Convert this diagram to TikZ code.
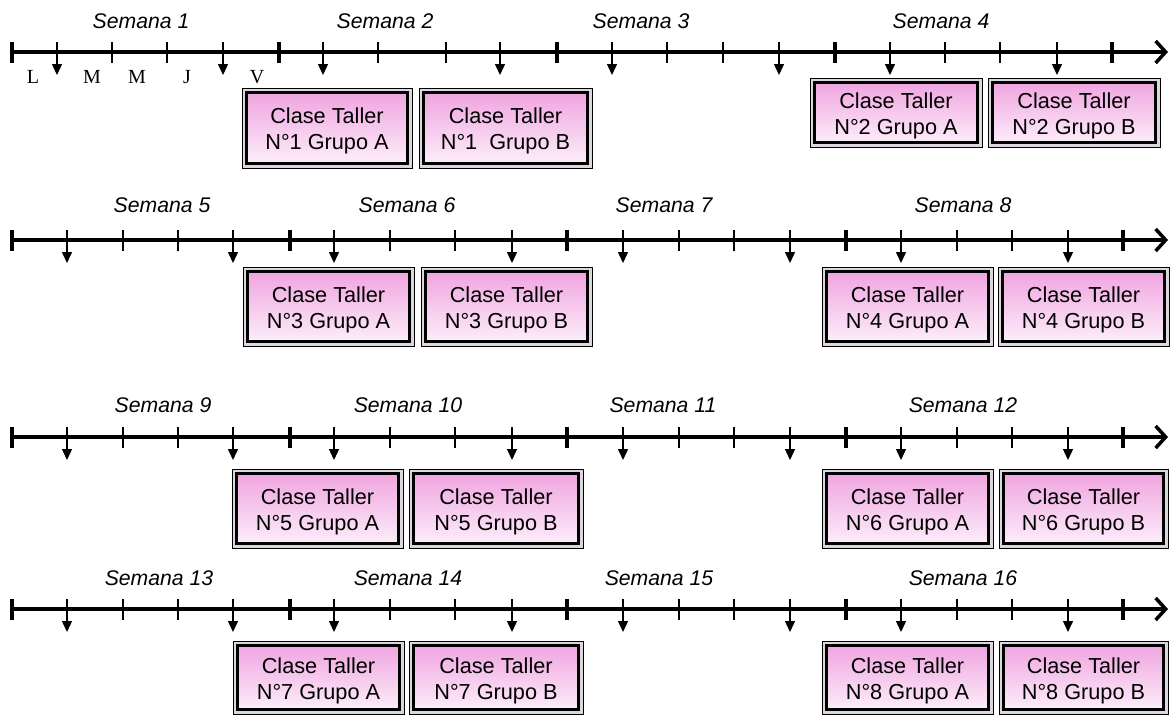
\documentclass[tikz,border=0pt]{standalone}
\usepackage{fontspec}
\setmainfont{Liberation Sans}
\newfontfamily\dayfont{Liberation Serif}
\usetikzlibrary{arrows.meta}

\definecolor{pinktop}{RGB}{239,160,222}
\definecolor{pinkmid}{RGB}{248,212,242}
\definecolor{pinkbot}{RGB}{253,242,252}
\definecolor{gapgray}{RGB}{222,214,222}

\tikzset{
  axis/.style={line width=3.5pt, -{Straight Barb[length=10pt,width=22pt]}},
  weektick/.style={line width=4.5pt},
  daytick/.style={line width=2pt},
  dayarrow/.style={line width=1.4pt, -{Triangle[length=11pt,width=10pt]}},
  weeklabel/.style={anchor=base, inner sep=0pt, font=\fontsize{21.2}{25}\selectfont\itshape},
  daylabel/.style={anchor=base, inner sep=0pt, font=\fontsize{20}{24}\dayfont},
  boxtext/.style={align=center, inner sep=0pt, yshift=-3pt,
    font=\fontsize{21.7}{26}\selectfont},
  tallerbox/.style={draw=black, line width=0.9pt, fill=gapgray, inner sep=0pt,
    path picture={
      \shade[top color=pinktop, middle color=pinkmid, bottom color=pinkbot]
        ([shift={(4.5pt,4.5pt)}]path picture bounding box.south west)
        rectangle ([shift={(-4.5pt,-4.5pt)}]path picture bounding box.north east);
      \draw[line width=2.5pt]
        ([shift={(4.5pt,4.5pt)}]path picture bounding box.south west)
        rectangle ([shift={(-4.5pt,-4.5pt)}]path picture bounding box.north east);
    }},
}

% \taller{name}{x1}{y1}{x2}{y2}{second line}
\newcommand\taller[6]{%
  \pgfmathsetmacro\tw{#4-#2}\pgfmathsetmacro\th{#5-#3}%
  \pgfmathsetmacro\tcx{(#2+#4)/2}\pgfmathsetmacro\tcy{(#3+#5)/2}%
  \node[tallerbox, minimum width=\tw pt, minimum height=\th pt,
    label={[boxtext]center:{Clase Taller\\#6}}] (#1) at (\tcx,\tcy) {};%
}

\begin{document}
\begin{tikzpicture}[x=1pt,y=-1pt]
\useasboundingbox (0,0) rectangle (1172,715);

% ---------- first timeline (weeks 1-4) ----------
\def\ya{52}
\draw[axis] (10,\ya) -- (1168,\ya);
\foreach \x in {12,279,557,835,1112}
  \draw[weektick] (\x,\ya-10) -- (\x,\ya+11);
\foreach \x in {112,167,378,446,667,723,945,1000}
  \draw[daytick] (\x,\ya-10) -- (\x,\ya+11);
\foreach \x in {57,223,323,500,612,779,890,1057}
  \draw[dayarrow] (\x,\ya-10) -- (\x,\ya+23);

\node[weeklabel] (s1) at (141,28) {Semana 1};
\node[weeklabel] (s2) at (385,28) {Semana 2};
\node[weeklabel] (s3) at (641,28) {Semana 3};
\node[weeklabel] (s4) at (941,28) {Semana 4};

\node[daylabel] (dL)  at (33,83)  {L};
\node[daylabel] (dM1) at (92,83)  {M};
\node[daylabel] (dM2) at (137,83) {M};
\node[daylabel] (dJ)  at (187,83) {J};
\node[daylabel] (dV)  at (257,83) {V};

\taller{t1a}{242}{88}{412}{168}{N°1 Grupo A}
\taller{t1b}{419}{88}{592}{168}{N°1~ Grupo B}
\taller{t2a}{810}{78}{982}{147}{N°2 Grupo A}
\taller{t2b}{988}{78}{1160}{147}{N°2 Grupo B}

% ---------- timelines for weeks 5-16 ----------
\foreach \yy in {240,437,609} {
  \draw[axis] (10,\yy) -- (1168,\yy);
  \foreach \x in {12,290,567,846,1123}
    \draw[weektick] (\x,\yy-10) -- (\x,\yy+11);
  \foreach \x in {123,178,390,455,679,734,957,1012}
    \draw[daytick] (\x,\yy-10) -- (\x,\yy+11);
  \foreach \x in {67,233,334,512,623,790,901,1068}
    \draw[dayarrow] (\x,\yy-10) -- (\x,\yy+23);
}

\node[weeklabel] (s5) at (162,212) {Semana 5};
\node[weeklabel] (s6) at (407,212) {Semana 6};
\node[weeklabel] (s7) at (664,212) {Semana 7};
\node[weeklabel] (s8) at (963,212) {Semana 8};

\node[weeklabel] (s9)  at (163,412) {Semana 9};
\node[weeklabel] (s10) at (408,412) {Semana 10};
\node[weeklabel] (s11) at (663,412) {Semana 11};
\node[weeklabel] (s12) at (963,412) {Semana 12};

\node[weeklabel] (s13) at (159,585) {Semana 13};
\node[weeklabel] (s14) at (408,585) {Semana 14};
\node[weeklabel] (s15) at (659,585) {Semana 15};
\node[weeklabel] (s16) at (963,585) {Semana 16};

\taller{t3a}{243}{267}{414}{346}{N°3 Grupo A}
\taller{t3b}{421}{267}{592}{346}{N°3 Grupo B}
\taller{t4a}{822}{267}{993}{346}{N°4 Grupo A}
\taller{t4b}{998}{267}{1169}{346}{N°4 Grupo B}

\taller{t5a}{232}{469}{403}{548}{N°5 Grupo A}
\taller{t5b}{409}{469}{583}{548}{N°5 Grupo B}
\taller{t6a}{822}{469}{993}{548}{N°6 Grupo A}
\taller{t6b}{999}{469}{1168}{548}{N°6 Grupo B}

\taller{t7a}{233}{641}{404}{714}{N°7 Grupo A}
\taller{t7b}{409}{641}{583}{714}{N°7 Grupo B}
\taller{t8a}{822}{641}{993}{714}{N°8 Grupo A}
\taller{t8b}{999}{641}{1168}{714}{N°8 Grupo B}
\end{tikzpicture}
\end{document}
